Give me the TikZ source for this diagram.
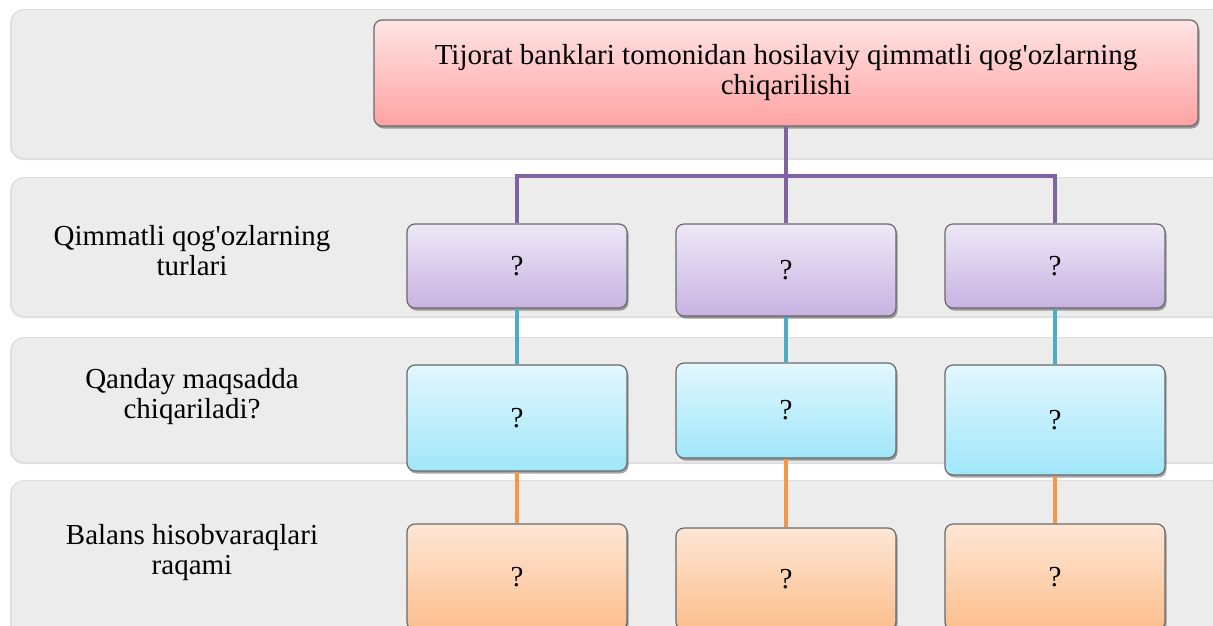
\documentclass[tikz,border=0pt]{standalone}
\usepackage{fontspec}
\setmainfont{Liberation Serif}[Ligatures=TeXOff]
\usetikzlibrary{shadows}
\definecolor{bandc}{RGB}{236,236,236}
\definecolor{bandedge}{RGB}{222,222,222}
\definecolor{pinkT}{RGB}{255,228,228}
\definecolor{pinkB}{RGB}{255,163,163}
\definecolor{purT}{RGB}{237,232,247}
\definecolor{purB}{RGB}{200,178,226}
\definecolor{cyT}{RGB}{226,247,253}
\definecolor{cyB}{RGB}{160,230,250}
\definecolor{orT}{RGB}{253,230,213}
\definecolor{orB}{RGB}{252,190,140}
\definecolor{boxborder}{RGB}{105,105,105}
\definecolor{plinec}{RGB}{128,100,162}
\definecolor{clinec}{RGB}{75,172,198}
\definecolor{olinec}{RGB}{247,150,70}
\begin{document}
\begin{tikzpicture}[x=1pt,y=-1pt,
  txt/.style={font=\fontsize{29}{30}\selectfont, text=black},
  box/.style={txt, draw=boxborder, line width=1.2pt, rounded corners=8pt,
    minimum width=220pt, inner sep=0pt, align=center,
    drop shadow={shadow xshift=1.5pt, shadow yshift=-2.5pt, opacity=0.35, fill=black}},
  topbox/.style={box, top color=pinkT, bottom color=pinkB},
  purbox/.style={box, top color=purT, bottom color=purB},
  cybox/.style={box, top color=cyT, bottom color=cyB},
  orbox/.style={box, top color=orT, bottom color=orB},
  plink/.style={draw=plinec, line width=4.5pt},
  clink/.style={draw=clinec, line width=4.5pt},
  olink/.style={draw=olinec, line width=4pt},
  band/.style={fill=bandc, rounded corners=12pt},
  lbl/.style={txt, align=center}]
\useasboundingbox (0,0) rectangle (1213,625);
\clip (0,0) rectangle (1213,625);
\fill[white] (0,0) rectangle (1213,625);
% background bands
\foreach \a/\b in {10/158,178/316,338/462,481/660}{
  \fill[bandedge, rounded corners=14pt] (10,\a-1) rectangle (1240,\b+2);
  \fill[band] (12,\a) rectangle (1240,\b);
}
% left labels
\node[lbl] (l1) at (192,251) {Qimmatli qog'ozlarning\\turlari};
\node[lbl] (l2) at (192,397) {Qanday maqsadda\\chiqariladi?};
\node[lbl] (l3) at (192,553) {Balans hisobvaraqlari\\raqami};
% nodes
\node[topbox, minimum width=824pt, minimum height=106pt] (top) at (786,73)
  {Tijorat banklari tomonidan hosilaviy qimmatli qog'ozlarning\\chiqarilishi};
\node[purbox, minimum height=84pt] (p1) at (517,266) {?};
\node[purbox, minimum height=92pt] (p2) at (786,270) {?};
\node[purbox, minimum height=84pt] (p3) at (1055,266) {?};
\node[cybox, minimum height=106pt] (c1) at (517,418) {?};
\node[cybox, minimum height=95pt] (c2) at (786,410.5) {?};
\node[cybox, minimum height=110pt] (c3) at (1055,420) {?};
\node[orbox, minimum height=106pt] (o1) at (517,577) {?};
\node[orbox, minimum height=102pt] (o2) at (786,579) {?};
\node[orbox, minimum height=106pt] (o3) at (1055,577) {?};
% connectors
\coordinate (j) at (786,176);
\draw[plink] (top.south) -- (j);
\draw[plink] (j) -| (p1.north);
\draw[plink] (j) -- (p2.north);
\draw[plink] (j) -| (p3.north);
\draw[clink] (p1.south) -- (c1.north);
\draw[clink] (p2.south) -- (c2.north);
\draw[clink] (p3.south) -- (c3.north);
\draw[olink] (c1.south) -- (o1.north);
\draw[olink] (c2.south) -- (o2.north);
\draw[olink] (c3.south) -- (o3.north);
\end{tikzpicture}
\end{document}
